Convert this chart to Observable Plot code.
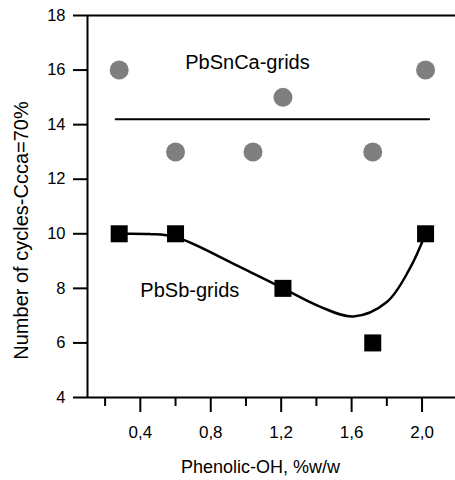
<!DOCTYPE html>
<html>
<head>
<meta charset="utf-8">
<script src="https://cdn.jsdelivr.net/npm/d3@7"></script>
<script src="https://cdn.jsdelivr.net/npm/@observablehq/plot@0.6"></script>
<style>
  html, body { margin: 0; padding: 0; background: #fff; }
  #chart svg { display: block; font-family: "Liberation Sans", Arial, Helvetica, sans-serif; }
</style>
</head>
<body>
<div id="chart"></div>
<script>
// ---- data ----
const phenolic = [0.28, 0.60, 1.04, 1.21, 1.72, 2.02];          // PbSnCa x positions
const pbsncaCycles = [16, 13, 13, 15, 13, 16];
const pbsbX = [0.28, 0.60, 1.21, 1.72, 2.02];
const pbsbCycles = [10, 10, 8, 6, 10];
const pbsncaMean = 14.2;                                         // horizontal line level
const meanLineX = [0.26, 2.04];
// smooth fitted curve through PbSb data
const curveX = [0.28, 0.45, 0.60, 0.93, 1.21, 1.42, 1.61, 1.80, 1.93, 2.02];
const curveY = [10.0, 9.99, 9.88, 8.9, 8.0, 7.33, 6.97, 7.5, 8.72, 10.0];
const xMajorTicks = [0.4, 0.8, 1.2, 1.6, 2.0];
const xMinorTicks = [0.2, 0.6, 1.0, 1.4, 1.8];
const yTicks = [4, 6, 8, 10, 12, 14, 16, 18];
const labels = [
  {text: "PbSnCa-grids", x: 0.655, y: 16.26},
  {text: "PbSb-grids", x: 0.40, y: 7.91}
];
const xTitle = "Phenolic-OH, %w/w";
const yTitle = "Number of cycles-Ccca=70%";

const circles = phenolic.map((x, i) => ({x, y: pbsncaCycles[i]}));
const squares = pbsbX.map((x, i) => ({x, y: pbsbCycles[i]}));
const curve = curveX.map((x, i) => ({x, y: curveY[i]}));
const meanLine = meanLineX.map(x => ({x, y: pbsncaMean}));
const fmt = d => d3.format(".1f")(d).replace(".", ",");
const font = "Liberation Sans, Arial, Helvetica, sans-serif";

const chart = Plot.plot({
  width: 455,
  height: 480,
  marginLeft: 87,
  marginTop: 15,
  marginRight: 0,
  marginBottom: 83,
  style: {fontFamily: font, color: "#000", background: "#fff"},
  x: {domain: [0.1, 2.19], axis: null},
  y: {domain: [4, 18], axis: null},
  marks: [
    // frame
    Plot.ruleX([0.1], {strokeWidth: 2}),
    Plot.ruleY([4, 18], {strokeWidth: 2}),
    // y axis
    Plot.axisY(yTicks, {anchor: "left", tickSize: 14, tickPadding: 8, strokeWidth: 2, fontSize: 16.5, label: null}),
    // x axis major + minor
    Plot.axisX(xMajorTicks, {anchor: "bottom", tickSize: 15, tickPadding: 13, strokeWidth: 2, fontSize: 17, tickFormat: fmt, label: null}),
    Plot.axisX(xMinorTicks, {anchor: "bottom", tickSize: 9, strokeWidth: 2, tickFormat: () => "", label: null}),
    // PbSnCa mean line
    Plot.line(meanLine, {x: "x", y: "y", stroke: "#000", strokeWidth: 2}),
    // PbSb fitted curve
    Plot.line(curve, {x: "x", y: "y", stroke: "#000", strokeWidth: 2.5, curve: "catmull-rom"}),
    // points
    Plot.dot(circles, {x: "x", y: "y", r: 9.5, fill: "#7f7f7f", stroke: null}),
    Plot.dot(squares, {x: "x", y: "y", r: 9.6, symbol: "square", fill: "#000", stroke: null}),
    // in-plot labels
    Plot.text(labels, {x: "x", y: "y", text: "text", textAnchor: "start", lineAnchor: "middle", fontSize: 20, fill: "#000"}),
    // axis titles
    Plot.text([xTitle], {frameAnchor: "bottom", text: d => d, textAnchor: "middle", dx: -11, dy: 70, lineAnchor: "middle", fontSize: 18, fill: "#000"}),
    Plot.text([yTitle], {frameAnchor: "left", text: d => d, textAnchor: "middle", rotate: -90, dx: -66.4, dy: 24, lineAnchor: "middle", fontSize: 20, fill: "#000"})
  ]
});
document.getElementById("chart").appendChild(chart);
</script>
</body>
</html>
